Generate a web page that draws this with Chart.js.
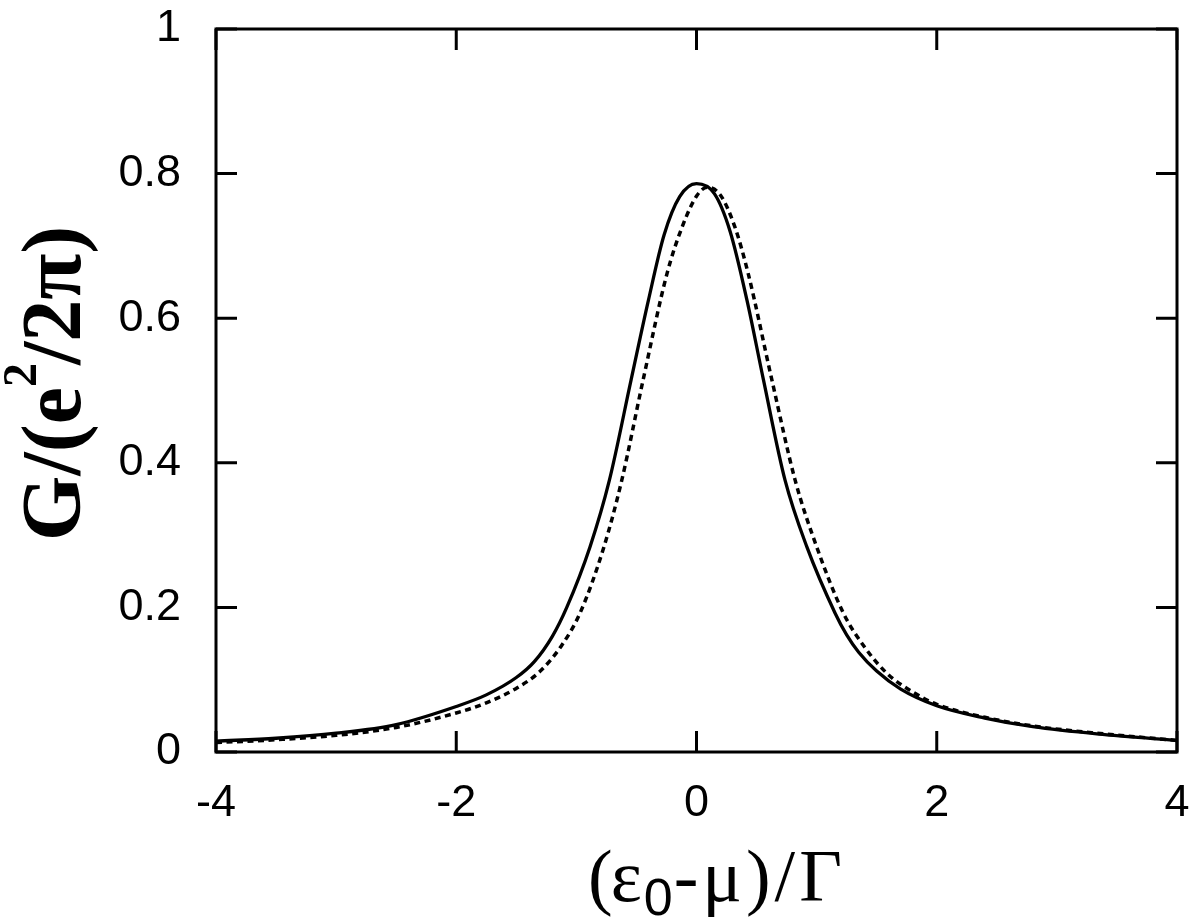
<!DOCTYPE html>
<html><head><meta charset="utf-8">
<script src="https://cdn.jsdelivr.net/npm/chart.js@4.4.1/dist/chart.umd.min.js"></script>
<style>html,body{margin:0;padding:0;background:#fff;} canvas{display:block;}</style>
</head><body>
<canvas id="c" width="1200" height="921"></canvas>
<script>
// ---- data ----
const xSolid = [-4, -3.5, -3, -2.5, -2, -1.75, -1.5, -1.35, -1.2, -1.08, -0.886, -0.725, -0.544, -0.4, -0.27, -0.14, 0, 0.15, 0.28, 0.42, 0.557, 0.737, 0.918, 1.154, 1.25, 1.35, 1.5, 1.7, 2.0, 2.4, 2.8, 3.4, 4];
const ySolid = [0.015, 0.019, 0.026, 0.038, 0.063, 0.079, 0.103, 0.125, 0.160, 0.200, 0.284, 0.376, 0.515, 0.625, 0.715, 0.768, 0.786, 0.772, 0.720, 0.625, 0.515, 0.376, 0.284, 0.192, 0.162, 0.138, 0.112, 0.087, 0.064, 0.047, 0.035, 0.024, 0.016];
const xDashed = [-4, -3.5, -3, -2.5, -2, -1.75, -1.5, -1.3, -1.12, -0.97, -0.77, -0.622, -0.444, -0.245, -0.12, 0.005, 0.09, 0.2, 0.32, 0.43, 0.627, 0.821, 1.0, 1.223, 1.4, 1.584, 1.8, 2.0, 2.4, 2.8, 3.4, 4];
const yDashed = [0.013, 0.017, 0.023, 0.034, 0.054, 0.068, 0.088, 0.112, 0.148, 0.192, 0.284, 0.376, 0.515, 0.662, 0.726, 0.770, 0.781, 0.770, 0.726, 0.662, 0.515, 0.376, 0.284, 0.192, 0.145, 0.109, 0.083, 0.066, 0.048, 0.036, 0.025, 0.016];
const xTickValues = [-4, -2, 0, 2, 4];
const xTickLabels = ['-4', '-2', '0', '2', '4'];
const yTickValues = [0, 0.2, 0.4, 0.6, 0.8, 1];
const yTickLabels = ['0', '0.2', '0.4', '0.6', '0.8', '1'];

const toPts = (xs, ys) => xs.map((x, i) => ({x: x, y: ys[i]}));

const framePlugin = {
  id: 'frame',
  afterDatasetsDraw(chart) {
    const ctx = chart.ctx, a = chart.chartArea, x = chart.scales.x, y = chart.scales.y;
    ctx.save();
    ctx.strokeStyle = '#000'; ctx.lineWidth = 3; ctx.lineCap = 'butt';
    ctx.strokeRect(a.left, a.top, a.right - a.left, a.bottom - a.top);
    const L = 21;
    ctx.beginPath();
    xTickValues.forEach(v => { const px = x.getPixelForValue(v);
      ctx.moveTo(px, a.bottom); ctx.lineTo(px, a.bottom - L);
      ctx.moveTo(px, a.top); ctx.lineTo(px, a.top + L); });
    yTickValues.forEach(v => { const py = y.getPixelForValue(v);
      ctx.moveTo(a.left, py); ctx.lineTo(a.left + L, py);
      ctx.moveTo(a.right, py); ctx.lineTo(a.right - L, py); });
    ctx.stroke();
    ctx.restore();
  }
};

// draw text char by char with optional extra spacing
function drawPieces(ctx, pieces, x0, y0) {
  let x = x0;
  pieces.forEach(p => {
    ctx.font = p.font;
    for (const ch of p.t) {
      ctx.fillText(ch, x, y0 + (p.dy || 0));
      x += ctx.measureText(ch).width + (p.sp || 0);
    }
    x += (p.after || 0);
  });
}

const titlePlugin = {
  id: 'titles',
  afterDraw(chart) {
    const ctx = chart.ctx;
    ctx.save();
    ctx.fillStyle = '#000';
    ctx.textBaseline = 'alphabetic';
    ctx.textAlign = 'left';
    // x axis title
    const serif = '74px "Liberation Serif", "Times New Roman", serif';
    drawPieces(ctx, [
      {t: '(', font: serif, after: -2},
      {t: 'ε', font: serif, after: 2},
      {t: '0', font: '52px "Liberation Sans", Arial, sans-serif', dy: 14, after: 1},
      {t: '-μ)/Γ', font: serif, sp: 4}
    ], 588, 901);
    // y axis title (rotated)
    ctx.translate(80, 541);
    ctx.rotate(-Math.PI / 2);
    const bserif = 'bold 84px "Liberation Serif", "Times New Roman", serif';
    drawPieces(ctx, [
      {t: 'G/(e', font: bserif, sp: 0, after: 0},
      {t: '2', font: 'bold 48px "Liberation Serif", "Times New Roman", serif', dy: -44, after: -2},
      {t: '/2π)', font: bserif, sp: 0}
    ], 0, 0);
    ctx.restore();
  }
};

new Chart(document.getElementById('c'), {
  type: 'line',
  data: {
    datasets: [
      {label: 'solid', data: toPts(xSolid, ySolid), borderColor: '#000', borderWidth: 3.3,
       pointRadius: 0, cubicInterpolationMode: 'monotone', fill: false},
      {label: 'dashed', data: toPts(xDashed, yDashed), borderColor: '#000', borderWidth: 3.5,
       borderDash: [6, 4.5], pointRadius: 0, cubicInterpolationMode: 'monotone', fill: false}
    ]
  },
  options: {
    responsive: false,
    animation: false,
    devicePixelRatio: 1,
    layout: {padding: {top: 29, right: 23, left: 0, bottom: 0}},
    plugins: {legend: {display: false}, tooltip: {enabled: false}, title: {display: false}},
    scales: {
      x: {
        type: 'linear', min: -4, max: 4,
        grid: {display: false}, border: {display: false},
        afterBuildTicks: s => { s.ticks = xTickValues.map(v => ({value: v})); },
        afterFit: s => { s.height = 169; s.paddingLeft = 0; s.paddingRight = 0; },
        ticks: {
          color: '#000', padding: 17,
          font: {family: '"Liberation Sans", Arial, sans-serif', size: 45},
          callback: v => xTickLabels[xTickValues.indexOf(v)]
        }
      },
      y: {
        type: 'linear', min: 0, max: 1,
        grid: {display: false}, border: {display: false},
        afterBuildTicks: s => { s.ticks = yTickValues.map(v => ({value: v})); },
        afterFit: s => { s.width = 216; s.paddingTop = 0; s.paddingBottom = 0; },
        ticks: {
          color: '#000', padding: 27,
          font: {family: '"Liberation Sans", Arial, sans-serif', size: 45},
          callback: (v, i) => yTickLabels[i]
        }
      }
    }
  },
  plugins: [framePlugin, titlePlugin]
});
</script>
</body></html>
